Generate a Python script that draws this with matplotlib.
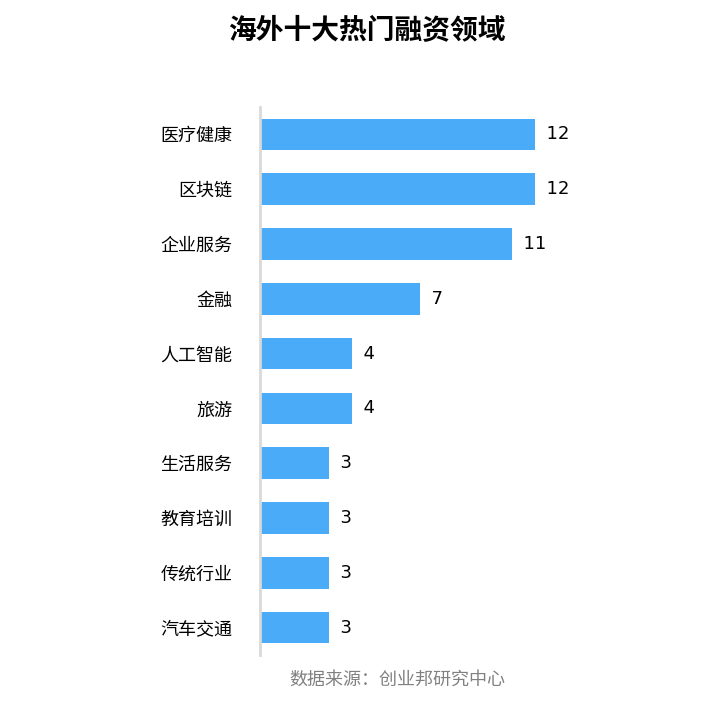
import matplotlib.pyplot as plt

plt.rcParams['font.family'] = ['Noto Sans CJK SC', 'DejaVu Sans']

categories = ['医疗健康', '区块链', '企业服务', '金融', '人工智能', '旅游',
              '生活服务', '教育培训', '传统行业', '汽车交通']
values = [12, 12, 11, 7, 4, 4, 3, 3, 3, 3]

W, H = 728, 718
fig = plt.figure(figsize=(W / 100, H / 100), dpi=100)
ax = fig.add_axes([260 / W, 1 - 655 / H, 275 / W, 548 / H])

pos = list(range(len(categories)))
ax.barh(pos, values, height=0.58, color='#4aabf9', left=0)
ax.set_xlim(0, 12)
ax.set_ylim(len(categories) - 0.5, -0.5)

for p, v in zip(pos, values):
    ax.text(v, p, f'  {v}', va='center', ha='left', fontsize=13, color='black',
            family='DejaVu Sans')

ax.set_yticks(pos)
ax.set_yticklabels(categories, fontsize=13)
ax.tick_params(axis='y', length=0, pad=20)
ax.set_xticks([])
for s in ['top', 'right', 'bottom']:
    ax.spines[s].set_visible(False)
ax.spines['left'].set_color('#d9d9d9')
ax.spines['left'].set_linewidth(2)

fig.text(367 / W, 1 - 31 / H, '海外十大热门融资领域', ha='center', va='center',
         fontsize=20, fontweight='bold')
fig.text(397 / W, 1 - 680 / H, '数据来源：创业邦研究中心', ha='center', va='center',
         fontsize=13, color='#808080')

fig.savefig('out.png', dpi=100)
